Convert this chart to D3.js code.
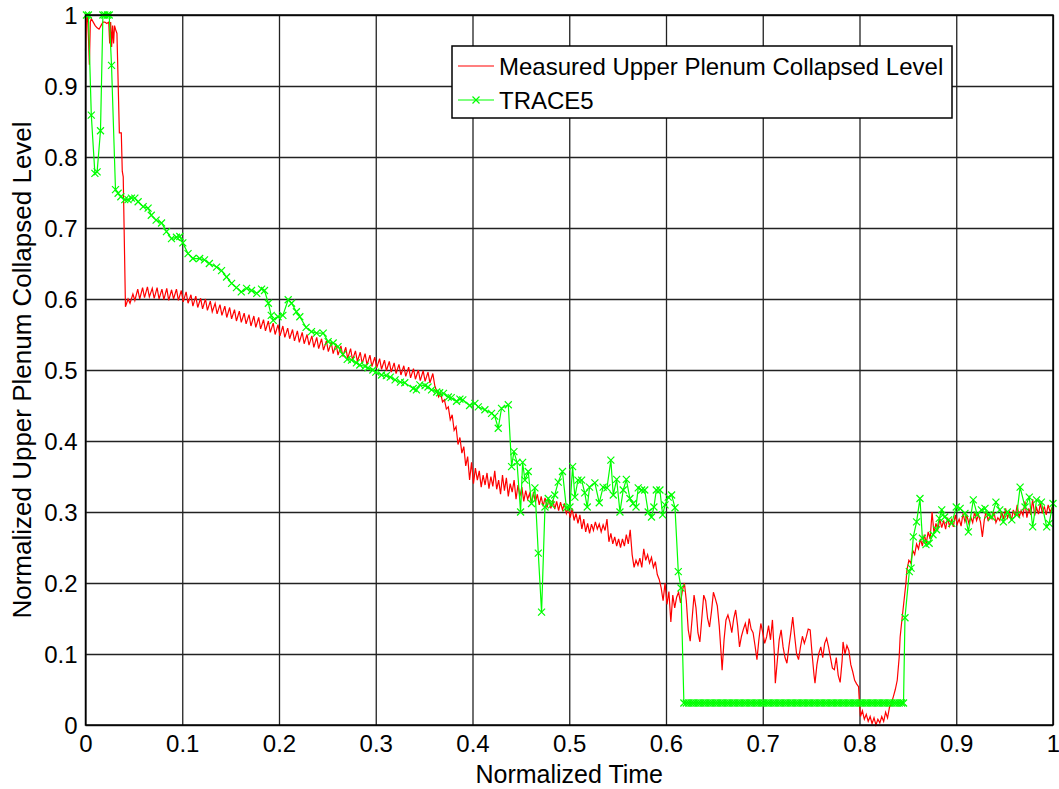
<!DOCTYPE html>
<html>
<head>
<meta charset="utf-8">
<script src="https://cdn.jsdelivr.net/npm/d3@7"></script>
<style>
  body { margin: 0; background: #fff; }
  svg { display: block; font-family: Arial, "Liberation Sans", sans-serif; }
  .tick text { font-size: 24px; fill: #000; }
</style>
</head>
<body>
<svg width="1059" height="789"></svg>
<script>
// data

var xTicks = [0, 0.1, 0.2, 0.3, 0.4, 0.5, 0.6, 0.7, 0.8, 0.9, 1];
var yTicks = [0, 0.1, 0.2, 0.3, 0.4, 0.5, 0.6, 0.7, 0.8, 0.9, 1];
var seriesNames = ["Measured Upper Plenum Collapsed Level", "TRACE5"];
var xLabel = "Normalized Time";
var yLabel = "Normalized Upper Plenum Collapsed Level";

// measured level [time, level]
var measured = [
  [0,0.95],[0.001,0.99],[0.002,1.0],[0.003,0.97],[0.004,0.93],[0.005,0.99],[0.006,0.995],[0.008,0.99],
  [0.010,0.985],[0.012,0.982],[0.014,0.98],[0.016,0.985],[0.018,0.99],[0.020,0.99],[0.022,0.988],[0.024,0.99],
  [0.025,0.96],[0.026,0.99],[0.027,0.955],[0.028,0.985],[0.029,0.96],[0.030,0.985],[0.031,0.98],[0.0325,0.974],
  [0.035,0.834],[0.037,0.834],[0.038,0.78],[0.039,0.772],[0.0413,0.589],
  [0.044,0.600],[0.046,0.594],[0.049,0.607],[0.051,0.598],[0.054,0.614],[0.056,0.600],[0.059,0.616],[0.061,0.602],
  [0.064,0.617],[0.066,0.603],[0.069,0.615],[0.071,0.601],[0.074,0.616],[0.076,0.600],[0.079,0.614],[0.081,0.599],
  [0.084,0.615],[0.086,0.598],[0.089,0.613],[0.091,0.600],[0.094,0.614],[0.096,0.598],[0.099,0.612],[0.101,0.596],
  [0.104,0.610],[0.106,0.594],[0.109,0.606],[0.111,0.590],[0.114,0.604],[0.116,0.588],[0.119,0.601],[0.121,0.586],
  [0.124,0.600],[0.126,0.584],[0.129,0.597],[0.131,0.582],[0.134,0.594],[0.136,0.579],[0.139,0.592],[0.141,0.577],
  [0.144,0.590],[0.146,0.574],[0.149,0.588],[0.151,0.572],[0.154,0.585],[0.156,0.569],[0.159,0.583],[0.161,0.567],
  [0.164,0.580],[0.166,0.565],[0.169,0.578],[0.171,0.562],[0.174,0.576],[0.176,0.560],[0.179,0.574],[0.181,0.558],
  [0.184,0.571],[0.186,0.555],[0.189,0.569],[0.191,0.553],[0.194,0.566],[0.196,0.550],[0.199,0.564],[0.201,0.548],
  [0.204,0.562],[0.206,0.546],[0.209,0.559],[0.211,0.544],[0.214,0.557],[0.216,0.541],[0.219,0.555],[0.221,0.539],
  [0.224,0.553],[0.226,0.537],[0.229,0.550],[0.231,0.535],[0.234,0.548],[0.236,0.532],[0.239,0.546],[0.241,0.530],
  [0.244,0.544],[0.246,0.528],[0.249,0.541],[0.251,0.526],[0.254,0.539],[0.256,0.523],[0.259,0.537],[0.261,0.521],
  [0.264,0.534],[0.266,0.519],[0.269,0.532],[0.271,0.516],[0.274,0.530],[0.276,0.514],[0.279,0.527],[0.281,0.512],
  [0.284,0.525],[0.286,0.509],[0.289,0.523],[0.291,0.507],[0.294,0.521],[0.296,0.505],[0.299,0.518],[0.301,0.503],
  [0.304,0.516],[0.306,0.501],[0.309,0.514],[0.311,0.499],[0.314,0.512],[0.316,0.497],[0.319,0.510],[0.321,0.495],
  [0.324,0.508],[0.326,0.493],[0.329,0.506],[0.331,0.491],[0.334,0.504],[0.336,0.489],[0.339,0.502],[0.341,0.487],
  [0.344,0.500],[0.346,0.485],[0.349,0.499],[0.351,0.484],[0.354,0.497],[0.356,0.482],[0.359,0.495],[0.361,0.478],
  [0.363,0.470],[0.365,0.462],[0.367,0.468],[0.369,0.455],[0.371,0.458],[0.373,0.445],[0.375,0.448],[0.377,0.430],
  [0.379,0.437],[0.381,0.415],[0.383,0.420],[0.385,0.395],[0.387,0.405],[0.389,0.383],[0.391,0.392],[0.393,0.365],
  [0.395,0.378],[0.397,0.345],[0.399,0.370],[0.401,0.340],[0.403,0.362],[0.405,0.345],[0.407,0.358],[0.409,0.335],
  [0.411,0.352],[0.413,0.338],[0.415,0.355],[0.417,0.333],[0.419,0.350],[0.421,0.336],[0.423,0.358],[0.425,0.332],
  [0.427,0.345],[0.429,0.325],[0.431,0.352],[0.433,0.330],[0.435,0.348],[0.437,0.322],[0.439,0.340],[0.441,0.328],
  [0.443,0.345],[0.445,0.318],[0.447,0.338],[0.449,0.322],[0.451,0.335],[0.453,0.315],[0.455,0.330],[0.457,0.318],
  [0.459,0.326],[0.461,0.312],[0.463,0.328],[0.465,0.314],[0.467,0.325],[0.469,0.310],[0.471,0.322],[0.473,0.308],
  [0.475,0.320],[0.477,0.306],[0.479,0.318],[0.481,0.305],[0.483,0.317],[0.485,0.304],[0.487,0.315],[0.489,0.302],
  [0.491,0.314],[0.493,0.303],[0.495,0.312],[0.497,0.298],[0.499,0.306],[0.501,0.292],[0.503,0.305],[0.505,0.288],
  [0.507,0.298],[0.509,0.284],[0.511,0.296],[0.513,0.276],[0.515,0.290],[0.517,0.272],[0.519,0.284],[0.521,0.270],
  [0.523,0.283],[0.525,0.274],[0.527,0.286],[0.529,0.276],[0.531,0.283],[0.533,0.272],[0.535,0.282],[0.537,0.274],
  [0.539,0.290],[0.541,0.258],[0.543,0.270],[0.545,0.255],[0.547,0.265],[0.549,0.252],[0.551,0.262],[0.553,0.250],
  [0.555,0.262],[0.557,0.252],[0.559,0.268],[0.561,0.255],[0.563,0.275],[0.565,0.240],[0.567,0.222],[0.569,0.232],
  [0.571,0.225],[0.573,0.235],[0.575,0.222],[0.577,0.248],[0.579,0.232],[0.581,0.240],[0.583,0.228],[0.585,0.236],
  [0.587,0.222],[0.589,0.230],[0.591,0.212],[0.593,0.205],[0.595,0.193],[0.597,0.175],[0.599,0.200],[0.601,0.170],
  [0.603,0.188],[0.605,0.145],[0.607,0.183],[0.609,0.165],[0.611,0.180],[0.613,0.187],[0.615,0.172],[0.617,0.190],
  [0.619,0.200],[0.621,0.175],[0.623,0.134],[0.625,0.118],[0.627,0.150],[0.629,0.183],[0.631,0.165],[0.633,0.130],
  [0.635,0.117],[0.637,0.150],[0.639,0.183],[0.641,0.175],[0.643,0.150],[0.645,0.138],[0.647,0.160],[0.649,0.187],
  [0.651,0.178],[0.653,0.168],[0.655,0.140],[0.657,0.100],[0.658,0.077],[0.660,0.120],[0.662,0.148],[0.664,0.155],
  [0.666,0.145],[0.668,0.130],[0.670,0.150],[0.672,0.162],[0.674,0.140],[0.676,0.110],[0.678,0.125],[0.680,0.135],
  [0.682,0.143],[0.684,0.128],[0.686,0.150],[0.688,0.135],[0.690,0.130],[0.692,0.112],[0.694,0.092],[0.696,0.120],
  [0.698,0.143],[0.700,0.130],[0.702,0.115],[0.704,0.124],[0.706,0.140],[0.708,0.120],[0.710,0.148],[0.712,0.100],
  [0.713,0.059],[0.715,0.090],[0.717,0.120],[0.719,0.134],[0.721,0.110],[0.723,0.095],[0.725,0.087],[0.727,0.110],
  [0.729,0.130],[0.731,0.152],[0.733,0.125],[0.735,0.100],[0.737,0.092],[0.739,0.110],[0.741,0.125],[0.743,0.115],
  [0.745,0.124],[0.747,0.135],[0.749,0.134],[0.751,0.100],[0.753,0.070],[0.754,0.059],[0.756,0.085],[0.758,0.101],
  [0.760,0.110],[0.762,0.095],[0.764,0.115],[0.766,0.122],[0.768,0.110],[0.770,0.095],[0.772,0.080],[0.774,0.078],
  [0.776,0.095],[0.778,0.070],[0.780,0.060],[0.782,0.090],[0.783,0.117],[0.785,0.100],[0.787,0.112],[0.789,0.105],
  [0.791,0.085],[0.793,0.075],[0.795,0.063],[0.797,0.058],[0.799,0.054],[0.800,0.030],[0.801,0.012],[0.803,0.020],
  [0.805,0.008],[0.807,0.015],[0.809,0.005],[0.811,0.012],[0.813,0.002],[0.815,0.010],[0.817,0.000],[0.819,0.008],
  [0.821,0.003],[0.823,0.012],[0.825,0.005],[0.827,0.018],[0.829,0.010],[0.831,0.025],[0.833,0.031],[0.835,0.040],
  [0.837,0.050],[0.839,0.063],[0.841,0.095],[0.842,0.124],[0.844,0.150],[0.846,0.175],[0.848,0.200],[0.849,0.218],
  [0.851,0.232],[0.853,0.228],[0.855,0.246],[0.857,0.240],[0.859,0.255],[0.861,0.248],[0.863,0.262],[0.865,0.252],
  [0.867,0.268],[0.869,0.256],[0.871,0.272],[0.873,0.262],[0.875,0.300],[0.877,0.270],[0.879,0.284],[0.881,0.275],
  [0.883,0.290],[0.885,0.278],[0.887,0.288],[0.889,0.276],[0.891,0.292],[0.893,0.280],[0.895,0.289],[0.897,0.279],
  [0.899,0.296],[0.901,0.283],[0.903,0.290],[0.905,0.280],[0.907,0.298],[0.909,0.286],[0.911,0.295],[0.913,0.284],
  [0.915,0.293],[0.917,0.285],[0.919,0.300],[0.921,0.288],[0.923,0.296],[0.925,0.286],[0.927,0.265],[0.929,0.289],
  [0.931,0.302],[0.933,0.287],[0.935,0.296],[0.937,0.290],[0.939,0.300],[0.941,0.285],[0.943,0.292],[0.945,0.288],
  [0.947,0.300],[0.949,0.290],[0.951,0.305],[0.953,0.292],[0.955,0.300],[0.957,0.288],[0.959,0.303],[0.961,0.294],
  [0.963,0.310],[0.965,0.292],[0.967,0.302],[0.969,0.295],[0.971,0.315],[0.973,0.292],[0.975,0.305],[0.977,0.296],
  [0.979,0.318],[0.981,0.295],[0.983,0.306],[0.985,0.297],[0.987,0.312],[0.989,0.298],[0.991,0.308],[0.993,0.296],
  [0.995,0.310],[0.997,0.300],[0.999,0.306],[1.000,0.302]
];

// TRACE5 prediction [time, level]
var trace5 = [
  [0.001,1.0],[0.003,1.0],[0.006,0.859],[0.0097,0.777],[0.012,0.779],[0.0155,0.837],[0.018,1.0],[0.020,1.0],
  [0.0227,1.0],[0.0245,1.0],[0.0269,0.929],[0.031,0.754],[0.0337,0.749],[0.0365,0.744],[0.0406,0.740],[0.044,0.740],
  [0.0475,0.742],[0.051,0.742],[0.0544,0.737],[0.0596,0.730],[0.0647,0.728],[0.068,0.718],[0.073,0.711],[0.0786,0.707],
  [0.0837,0.695],[0.0889,0.685],[0.094,0.687],[0.0975,0.688],[0.1006,0.679],[0.106,0.664],[0.111,0.657],[0.118,0.657],
  [0.123,0.655],[0.128,0.650],[0.1355,0.645],[0.1406,0.640],[0.1458,0.631],[0.151,0.622],[0.156,0.616],[0.161,0.610],
  [0.1665,0.615],[0.1716,0.612],[0.177,0.608],[0.182,0.614],[0.185,0.612],[0.189,0.594],[0.192,0.577],[0.194,0.570],
  [0.199,0.575],[0.204,0.577],[0.2095,0.599],[0.213,0.594],[0.218,0.582],[0.2215,0.575],[0.228,0.560],[0.2336,0.554],
  [0.2388,0.552],[0.2457,0.552],[0.2508,0.540],[0.256,0.538],[0.261,0.533],[0.266,0.522],[0.2705,0.515],[0.275,0.514],
  [0.280,0.510],[0.2835,0.507],[0.289,0.505],[0.292,0.503],[0.297,0.500],[0.300,0.497],[0.306,0.493],[0.311,0.492],
  [0.315,0.490],[0.320,0.486],[0.3255,0.483],[0.330,0.482],[0.3387,0.474],[0.342,0.472],[0.3456,0.479],[0.351,0.478],
  [0.354,0.476],[0.3577,0.472],[0.363,0.469],[0.366,0.468],[0.370,0.467],[0.375,0.462],[0.378,0.461],[0.3835,0.456],
  [0.387,0.459],[0.390,0.458],[0.397,0.450],[0.4025,0.453],[0.406,0.448],[0.4128,0.444],[0.4197,0.439],[0.423,0.435],
  [0.4266,0.418],[0.430,0.446],[0.437,0.451],[0.4404,0.364],[0.4428,0.385],[0.446,0.370],[0.4497,0.300],[0.4518,0.370],
  [0.4542,0.345],[0.4576,0.357],[0.461,0.312],[0.4645,0.334],[0.468,0.242],[0.4714,0.159],[0.4749,0.307],[0.4783,0.319],
  [0.4817,0.310],[0.485,0.324],[0.4886,0.342],[0.493,0.357],[0.497,0.306],[0.5007,0.307],[0.5035,0.364],[0.5058,0.321],
  [0.509,0.345],[0.5128,0.345],[0.516,0.327],[0.5186,0.307],[0.521,0.335],[0.5265,0.341],[0.531,0.313],[0.535,0.335],
  [0.539,0.334],[0.543,0.373],[0.5455,0.324],[0.549,0.346],[0.5524,0.300],[0.5558,0.331],[0.559,0.346],[0.5627,0.319],
  [0.566,0.312],[0.569,0.307],[0.5713,0.334],[0.5748,0.331],[0.578,0.331],[0.5816,0.300],[0.585,0.293],[0.5875,0.307],
  [0.590,0.331],[0.5937,0.331],[0.5965,0.296],[0.599,0.310],[0.6023,0.321],[0.6058,0.324],[0.6093,0.306],[0.6127,0.216],
  [0.6155,0.193],
  [0.6185,0.031],[0.621,0.031],[0.6235,0.031],[0.626,0.031],[0.6285,0.031],[0.631,0.031],[0.6335,0.031],[0.636,0.031],
  [0.6385,0.031],[0.641,0.031],[0.6435,0.031],[0.646,0.031],[0.6485,0.031],[0.651,0.031],[0.6535,0.031],[0.656,0.031],
  [0.6585,0.031],[0.661,0.031],[0.6635,0.031],[0.666,0.031],[0.6685,0.031],[0.671,0.031],[0.6735,0.031],[0.676,0.031],
  [0.6785,0.031],[0.681,0.031],[0.6835,0.031],[0.686,0.031],[0.6885,0.031],[0.691,0.031],[0.6935,0.031],[0.696,0.031],
  [0.6985,0.031],[0.701,0.031],[0.7035,0.031],[0.706,0.031],[0.7085,0.031],[0.711,0.031],[0.7135,0.031],[0.716,0.031],
  [0.7185,0.031],[0.721,0.031],[0.7235,0.031],[0.726,0.031],[0.7285,0.031],[0.731,0.031],[0.7335,0.031],[0.736,0.031],
  [0.7385,0.031],[0.741,0.031],[0.7435,0.031],[0.746,0.031],[0.7485,0.031],[0.751,0.031],[0.7535,0.031],[0.756,0.031],
  [0.7585,0.031],[0.761,0.031],[0.7635,0.031],[0.766,0.031],[0.7685,0.031],[0.771,0.031],[0.7735,0.031],[0.776,0.031],
  [0.7785,0.031],[0.781,0.031],[0.7835,0.031],[0.786,0.031],[0.7885,0.031],[0.791,0.031],[0.7935,0.031],[0.796,0.031],
  [0.7985,0.031],[0.801,0.031],[0.8035,0.031],[0.806,0.031],[0.8085,0.031],[0.811,0.031],[0.8135,0.031],[0.816,0.031],
  [0.8185,0.031],[0.821,0.031],[0.8235,0.031],[0.826,0.031],[0.8285,0.031],[0.831,0.031],[0.8335,0.031],[0.836,0.031],
  [0.8385,0.031],[0.841,0.031],[0.8435,0.031],[0.8455,0.031],
  [0.847,0.151],[0.8515,0.216],[0.8533,0.221],[0.8556,0.265],[0.859,0.286],[0.8625,0.319],[0.865,0.263],[0.8687,0.254],
  [0.872,0.256],[0.876,0.268],[0.8797,0.275],[0.8825,0.291],[0.885,0.303],[0.888,0.293],[0.892,0.289],[0.8953,0.284],
  [0.900,0.307],[0.904,0.305],[0.909,0.298],[0.9125,0.272],[0.9176,0.317],[0.9217,0.296],[0.926,0.303],[0.9297,0.305],
  [0.933,0.296],[0.9366,0.293],[0.941,0.314],[0.945,0.303],[0.9487,0.286],[0.9528,0.300],[0.9574,0.289],[0.9625,0.296],
  [0.966,0.335],[0.9711,0.307],[0.9755,0.321],[0.979,0.279],[0.983,0.317],[0.988,0.314],[0.9935,0.279],[0.996,0.284],
  [1.0,0.312]
];

var svg = d3.select("svg"),
    margin = {left: 85.5, right: 6, top: 15, bottom: 64},
    width = +svg.attr("width") - margin.left - margin.right,
    height = +svg.attr("height") - margin.top - margin.bottom,
    g = svg.append("g").attr("transform", "translate(" + margin.left + "," + margin.top + ")");

var x = d3.scaleLinear().domain([0, 1]).range([0, width]);
var y = d3.scaleLinear().domain([0, 1]).range([height, 0]);

// grid
g.append("g")
    .attr("class", "grid")
    .attr("transform", "translate(0," + height + ")")
    .call(d3.axisBottom(x).tickValues(xTicks).tickSize(-height).tickFormat(""))
    .call(function(s) { s.select(".domain").remove(); });
g.append("g")
    .attr("class", "grid")
    .call(d3.axisLeft(y).tickValues(yTicks).tickSize(-width).tickFormat(""))
    .call(function(s) { s.select(".domain").remove(); });
g.selectAll(".grid line").attr("stroke", "#222").attr("stroke-width", 1.3);

// tick labels
var xAxis = g.append("g")
    .attr("transform", "translate(0," + height + ")")
    .call(d3.axisBottom(x).tickValues(xTicks).tickSize(0).tickPadding(10).tickFormat(function(d) { return String(d); }));
var yAxis = g.append("g")
    .call(d3.axisLeft(y).tickValues(yTicks).tickSize(0).tickPadding(8).tickFormat(function(d) { return String(d); }));
xAxis.select(".domain").remove();
yAxis.select(".domain").remove();
xAxis.selectAll("text").attr("dy", "0.71em");
yAxis.selectAll("text").attr("dy", "0.36em");

// series
var line = d3.line()
    .x(function(d) { return x(d[0]); })
    .y(function(d) { return y(d[1]); });

g.append("path")
    .datum(measured)
    .attr("fill", "none")
    .attr("stroke", "#ff0000")
    .attr("stroke-width", 1.2)
    .attr("d", line);

g.append("path")
    .datum(trace5)
    .attr("fill", "none")
    .attr("stroke", "#00ff00")
    .attr("stroke-width", 1.2)
    .attr("d", line);

var cross = "M-3.5,-3.5L3.5,3.5M-3.5,3.5L3.5,-3.5";
g.append("g").selectAll("path")
    .data(trace5)
    .enter().append("path")
      .attr("transform", function(d) { return "translate(" + x(d[0]) + "," + y(d[1]) + ")"; })
      .attr("d", cross)
      .attr("fill", "none")
      .attr("stroke", "#00ff00")
      .attr("stroke-width", 1.2);

// frame
g.append("rect")
    .attr("width", width).attr("height", height)
    .attr("fill", "none").attr("stroke", "#000").attr("stroke-width", 1.5);

// legend
var legend = g.append("g").attr("transform", "translate(" + (452 - margin.left) + "," + (46 - margin.top) + ")");
legend.append("rect")
    .attr("width", 500).attr("height", 72)
    .attr("fill", "#fff").attr("stroke", "#000").attr("stroke-width", 1.5);
var legendColors = ["#ff0000", "#00ff00"];
seriesNames.forEach(function(name, i) {
  var ly = 20 + i * 34;
  legend.append("line")
      .attr("x1", 6).attr("x2", 42).attr("y1", ly).attr("y2", ly)
      .attr("stroke", legendColors[i]).attr("stroke-width", 1.2);
  if (i == 1) {
    legend.append("path")
        .attr("transform", "translate(24," + ly + ")")
        .attr("d", cross).attr("fill", "none")
        .attr("stroke", legendColors[i]).attr("stroke-width", 1.2);
  }
  legend.append("text")
      .attr("x", 47).attr("y", ly).attr("dy", "0.36em")
      .style("font-size", "24px")
      .text(name);
});

// axis titles
svg.append("text")
    .attr("x", margin.left + width / 2).attr("y", 783)
    .attr("text-anchor", "middle")
    .style("font-size", "25px")
    .text(xLabel);
svg.append("text")
    .attr("transform", "translate(31," + (margin.top + height / 2) + ") rotate(-90)")
    .attr("text-anchor", "middle")
    .style("font-size", "26px")
    .text(yLabel);
</script>
</body>
</html>
